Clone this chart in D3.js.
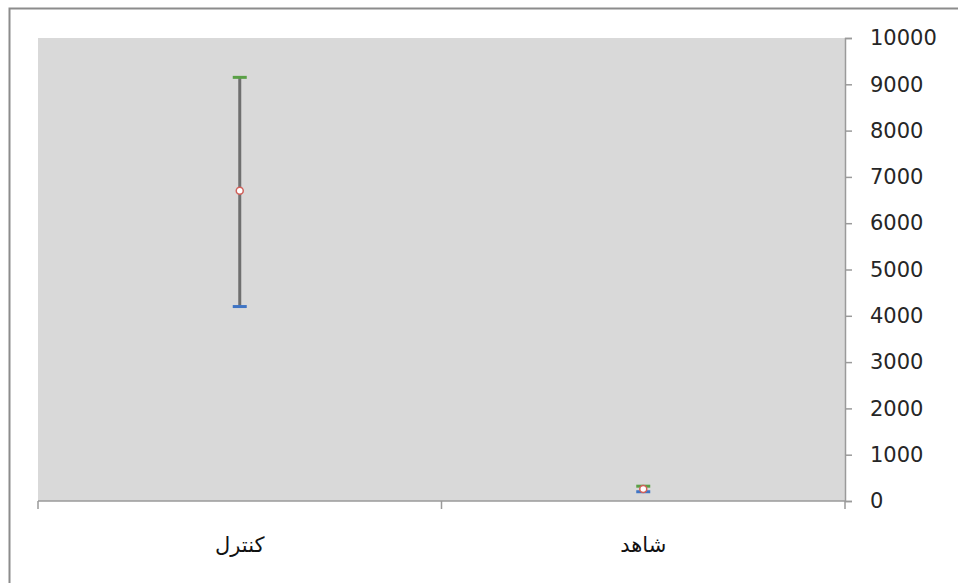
<!DOCTYPE html>
<html>
<head>
<meta charset="utf-8">
<script src="https://cdn.jsdelivr.net/npm/d3@7"></script>
<style>
  body { margin: 0; background: #fff; }
  svg { display: block; }
</style>
</head>
<body>
<div id="chart"></div>
<script>
// chart data
var categories = ["کنترل", "شاهد"];
var highValues = [9150, 320];
var lowValues = [4200, 200];
var meanValues = [6700, 260];
var yTicks = [0, 1000, 2000, 3000, 4000, 5000, 6000, 7000, 8000, 9000, 10000];

var svgWidth = 958;
var svgHeight = 583;

var plot = { left: 38, right: 845, top: 38, bottom: 501 };

var svg = d3.select("#chart")
  .append("svg")
  .attr("width", svgWidth)
  .attr("height", svgHeight);

// outer frame (only top and left edges show in the picture)
svg.append("path")
  .attr("d", `M9.5,${svgHeight} V8.5 H${svgWidth}`)
  .attr("fill", "none")
  .attr("stroke", "#8c8c8c")
  .attr("stroke-width", 2);

// plot area background
svg.append("rect")
  .attr("x", plot.left)
  .attr("y", plot.top)
  .attr("width", plot.right - plot.left)
  .attr("height", plot.bottom - plot.top)
  .attr("fill", "#d9d9d9");

var xScale = d3.scaleBand()
  .domain(categories)
  .range([plot.left, plot.right]);

var yScale = d3.scaleLinear()
  .domain([0, 10000])
  .range([plot.bottom, plot.top]);

// right y axis
var rightAxis = d3.axisRight(yScale)
  .tickValues(yTicks)
  .tickSize(7)
  .tickPadding(18)
  .tickFormat(d3.format("d"));

var yAxis = svg.append("g")
  .attr("transform", `translate(${plot.right}, 0)`)
  .call(rightAxis);

yAxis.select(".domain").attr("stroke", "#9a9a9a").attr("stroke-width", 1.5);
yAxis.selectAll(".tick line").attr("stroke", "#9a9a9a").attr("stroke-width", 1.5);
yAxis.selectAll(".tick text")
  .attr("fill", "#262626")
  .style("font-family", "'DejaVu Sans', sans-serif")
  .style("font-size", "21px");

// bottom x axis with tick marks between categories
var xAxis = svg.append("g");
xAxis.append("line")
  .attr("x1", plot.left)
  .attr("x2", plot.right)
  .attr("y1", plot.bottom)
  .attr("y2", plot.bottom)
  .attr("stroke", "#9a9a9a")
  .attr("stroke-width", 1.5);

var boundaries = categories.map(d => xScale(d)).concat([xScale.range()[1]]);
xAxis.selectAll(".xtick")
  .data(boundaries)
  .enter()
  .append("line")
  .attr("x1", d => d)
  .attr("x2", d => d)
  .attr("y1", plot.bottom)
  .attr("y2", plot.bottom + 8)
  .attr("stroke", "#9a9a9a")
  .attr("stroke-width", 1.5);

xAxis.selectAll(".xlabel")
  .data(categories)
  .enter()
  .append("text")
  .attr("x", d => xScale(d) + xScale.bandwidth() / 2)
  .attr("y", 552)
  .attr("text-anchor", "middle")
  .attr("fill", "#111")
  .style("font-family", "'DejaVu Sans', sans-serif")
  .style("font-size", "21px")
  .text(d => d);

// high-low lines with markers
var cx = (d, i) => xScale(categories[i]) + xScale.bandwidth() / 2;

var marks = svg.append("g");

marks.selectAll(".hiLo")
  .data(categories)
  .enter()
  .append("line")
  .attr("x1", cx)
  .attr("x2", cx)
  .attr("y1", (d, i) => yScale(highValues[i]))
  .attr("y2", (d, i) => yScale(lowValues[i]))
  .attr("stroke", "#6f6f6f")
  .attr("stroke-width", 3);

marks.selectAll(".high")
  .data(categories)
  .enter()
  .append("line")
  .attr("x1", (d, i) => cx(d, i) - 7)
  .attr("x2", (d, i) => cx(d, i) + 7)
  .attr("y1", (d, i) => yScale(highValues[i]))
  .attr("y2", (d, i) => yScale(highValues[i]))
  .attr("stroke", "#5aa046")
  .attr("stroke-width", 3);

marks.selectAll(".low")
  .data(categories)
  .enter()
  .append("line")
  .attr("x1", (d, i) => cx(d, i) - 7)
  .attr("x2", (d, i) => cx(d, i) + 7)
  .attr("y1", (d, i) => yScale(lowValues[i]))
  .attr("y2", (d, i) => yScale(lowValues[i]))
  .attr("stroke", "#3f74c4")
  .attr("stroke-width", 3);

marks.selectAll(".mean")
  .data(categories)
  .enter()
  .append("circle")
  .attr("cx", cx)
  .attr("cy", (d, i) => yScale(meanValues[i]))
  .attr("r", 3.5)
  .attr("fill", "#fff")
  .attr("stroke", "#d0605a")
  .attr("stroke-width", 1.5);
</script>
</body>
</html>
